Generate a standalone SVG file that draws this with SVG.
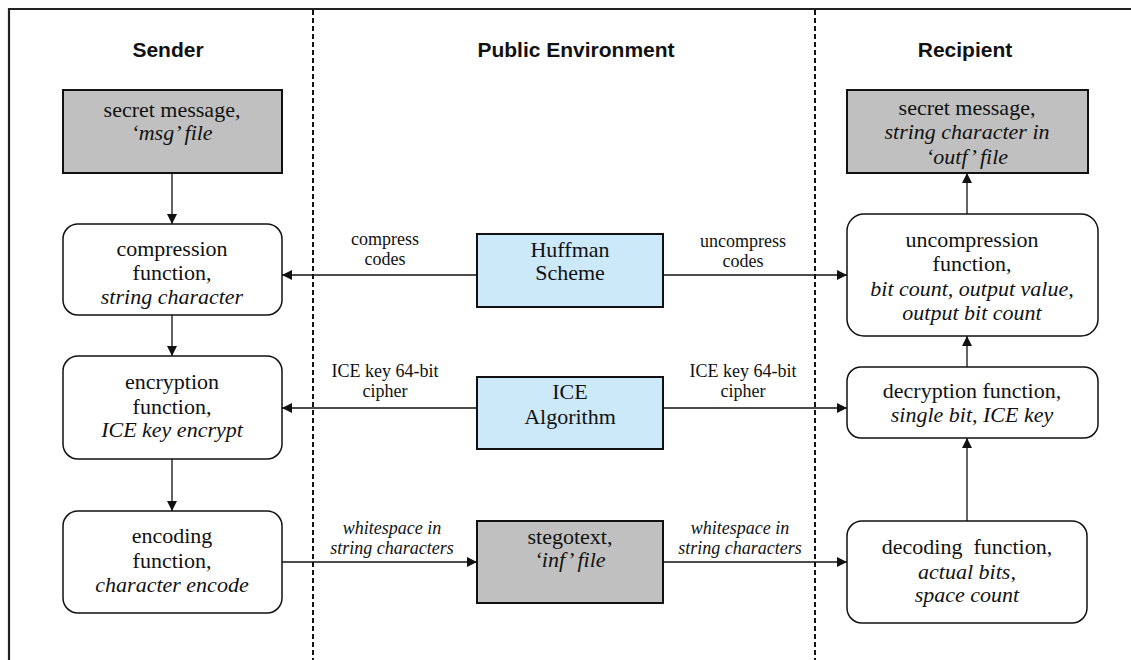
<svg xmlns="http://www.w3.org/2000/svg" width="1131" height="660" viewBox="0 0 1131 660">
<style>
.t{font-family:"Liberation Sans",Arial,sans-serif;font-weight:bold;font-size:21px;fill:#111;text-anchor:middle}
.n{font-family:"Liberation Serif","Times New Roman",serif;font-size:22px;fill:#111;text-anchor:middle}
.l{font-family:"Liberation Serif","Times New Roman",serif;font-size:18px;fill:#111;text-anchor:middle}
.i{font-style:italic}
.gray{fill:#c0c0c0;stroke:#111;stroke-width:2}
.blue{fill:#cce9fa;stroke:#111;stroke-width:2}
.rnd{fill:#fff;stroke:#111;stroke-width:1.5}
.c{stroke:#111;stroke-width:1.3;fill:none}
.dash{stroke:#111;stroke-width:2;stroke-dasharray:5 3;fill:none}
</style>
<defs>
<marker id="ah" markerWidth="10" markerHeight="10" refX="10" refY="5" orient="auto" markerUnits="userSpaceOnUse">
<path d="M0,0 L10,5 L0,10 z" fill="#111"/>
</marker>
</defs>
<rect width="1131" height="660" fill="#fff"/>
<g id="frame">
<path d="M9,660 V9 H1131" stroke="#222" stroke-width="2.2" fill="none"/>
<line class="dash" x1="313" y1="10" x2="313" y2="660"/>
<line class="dash" x1="815" y1="10" x2="815" y2="660"/>
</g>
<g id="titles">
<text class="t" x="168" y="57">Sender</text>
<text class="t" x="576" y="57">Public Environment</text>
<text class="t" x="965" y="57">Recipient</text>
</g>
<g id="connectors">
<line class="c" x1="172" y1="173" x2="172" y2="224" marker-end="url(#ah)"/>
<line class="c" x1="172" y1="315" x2="172" y2="356" marker-end="url(#ah)"/>
<line class="c" x1="172" y1="459" x2="172" y2="511" marker-end="url(#ah)"/>
<line class="c" x1="477" y1="275" x2="282" y2="275" marker-end="url(#ah)"/>
<line class="c" x1="477" y1="408" x2="282" y2="408" marker-end="url(#ah)"/>
<line class="c" x1="282" y1="562" x2="477" y2="562" marker-end="url(#ah)"/>
<line class="c" x1="663" y1="275" x2="847" y2="275" marker-end="url(#ah)"/>
<line class="c" x1="663" y1="408" x2="847" y2="408" marker-end="url(#ah)"/>
<line class="c" x1="663" y1="562" x2="847" y2="562" marker-end="url(#ah)"/>
<line class="c" x1="967" y1="214" x2="967" y2="173" marker-end="url(#ah)"/>
<line class="c" x1="967" y1="367" x2="967" y2="336" marker-end="url(#ah)"/>
<line class="c" x1="967" y1="521" x2="967" y2="438" marker-end="url(#ah)"/>
<text class="l" x="385" y="245">compress</text>
<text class="l" x="385" y="265">codes</text>
<text class="l" x="385" y="377">ICE key 64-bit</text>
<text class="l" x="385" y="397">cipher</text>
<text class="l i" x="392" y="534">whitespace in</text>
<text class="l i" x="392" y="554">string characters</text>
<text class="l" x="743" y="247">uncompress</text>
<text class="l" x="743" y="267">codes</text>
<text class="l" x="743" y="377">ICE key 64-bit</text>
<text class="l" x="743" y="397">cipher</text>
<text class="l i" x="740" y="534">whitespace in</text>
<text class="l i" x="740" y="554">string characters</text>
</g>
<g id="sender-msg">
<rect class="gray" x="63" y="90" width="219" height="83"/>
<text class="n" x="172" y="117">secret message,</text>
<text class="n i" x="172" y="140">‘msg’ file</text>
</g>
<g id="compression">
<rect class="rnd" x="63" y="224" width="219" height="91" rx="15"/>
<text class="n" x="172" y="256">compression</text>
<text class="n" x="172" y="280">function,</text>
<text class="n i" x="172" y="304">string character</text>
</g>
<g id="encryption">
<rect class="rnd" x="63" y="356" width="219" height="103" rx="15"/>
<text class="n" x="172" y="389">encryption</text>
<text class="n" x="172" y="414">function,</text>
<text class="n i" x="172" y="437">ICE key encrypt</text>
</g>
<g id="encoding">
<rect class="rnd" x="63" y="511" width="219" height="102" rx="15"/>
<text class="n" x="172" y="543">encoding</text>
<text class="n" x="172" y="568">function,</text>
<text class="n i" x="172" y="592">character encode</text>
</g>
<g id="huffman">
<rect class="blue" x="477" y="234" width="186" height="73"/>
<text class="n" x="570" y="257">Huffman</text>
<text class="n" x="570" y="280">Scheme</text>
</g>
<g id="ice">
<rect class="blue" x="477" y="377" width="186" height="72"/>
<text class="n" x="570" y="399">ICE</text>
<text class="n" x="570" y="424">Algorithm</text>
</g>
<g id="stegotext">
<rect class="gray" x="477" y="521" width="186" height="82"/>
<text class="n" x="570" y="544">stegotext,</text>
<text class="n i" x="570" y="567">‘inf’ file</text>
</g>
<g id="recipient-msg">
<rect class="gray" x="847" y="90" width="241" height="83"/>
<text class="n" x="967" y="115">secret message,</text>
<text class="n i" x="967" y="139">string character in</text>
<text class="n i" x="967" y="164">‘outf’ file</text>
</g>
<g id="uncompression">
<rect class="rnd" x="847" y="214" width="251" height="122" rx="17"/>
<text class="n" x="972" y="247">uncompression</text>
<text class="n" x="972" y="271">function,</text>
<text class="n i" x="972" y="296">bit count, output value,</text>
<text class="n i" x="972" y="320">output bit count</text>
</g>
<g id="decryption">
<rect class="rnd" x="847" y="367" width="251" height="71" rx="14"/>
<text class="n" x="972" y="398">decryption function,</text>
<text class="n i" x="972" y="422">single bit, ICE key</text>
</g>
<g id="decoding">
<rect class="rnd" x="847" y="521" width="240" height="102" rx="15"/>
<text class="n" x="967" y="554">decoding&#160; function,</text>
<text class="n i" x="967" y="579">actual bits,</text>
<text class="n i" x="967" y="602">space count</text>
</g>
</svg>
